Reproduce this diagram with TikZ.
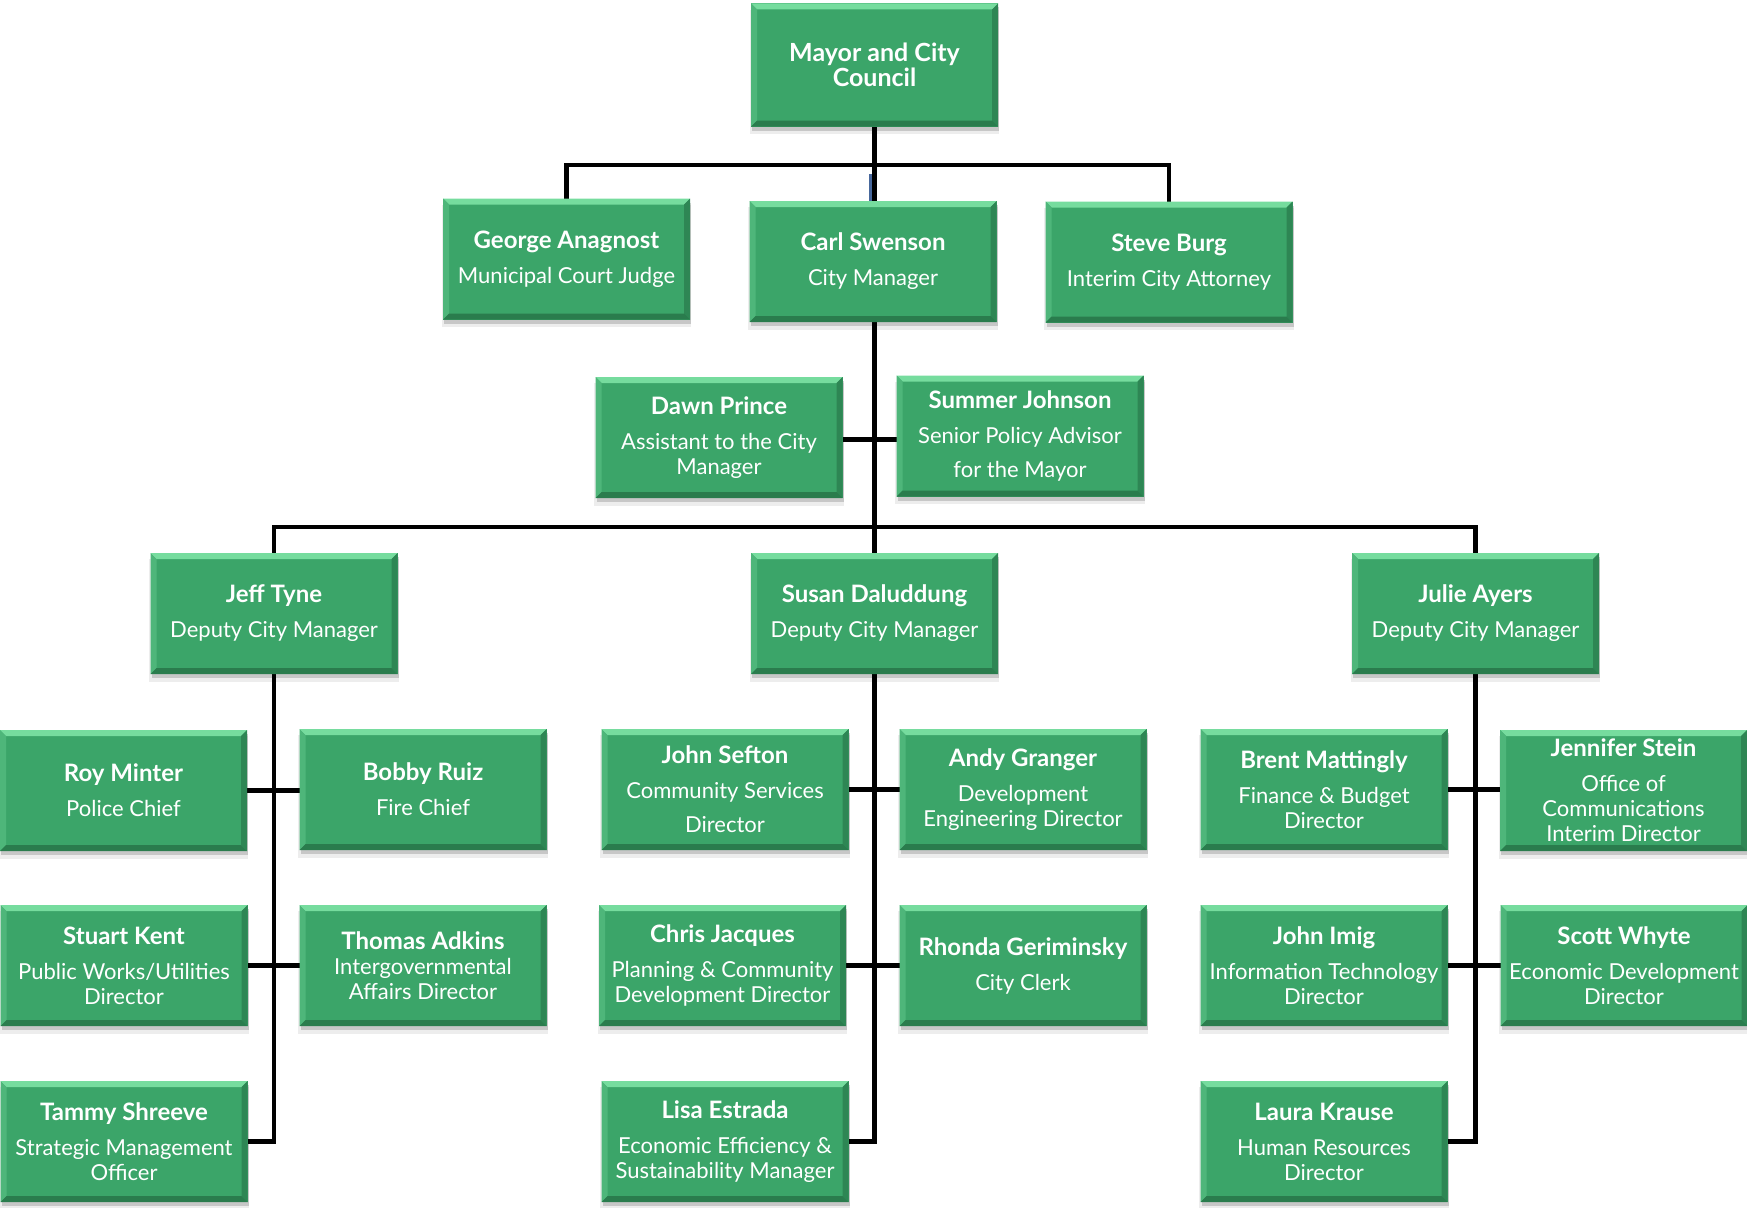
\documentclass[tikz,border=0pt]{standalone}
\usepackage{fontspec}
\setmainfont{Lato}
\usetikzlibrary{shadows,backgrounds}
\definecolor{boxgreen}{RGB}{59,165,105}
\definecolor{bevT}{RGB}{118,220,158}
\definecolor{bevL}{RGB}{78,182,122}
\definecolor{bevR}{RGB}{46,134,84}
\definecolor{bevB}{RGB}{42,124,77}
\definecolor{markblue}{RGB}{72,104,156}
\newcommand{\nm}[1]{{\fontsize{24}{28}\selectfont\bfseries #1}}
\newcommand{\ob}[2]{\nm{#1}\\[10pt]#2}
\tikzset{
  orgbox/.style={
    rectangle, minimum width=247pt, minimum height=121pt, inner sep=2pt,
    fill=boxgreen, text=white, align=center,
    font=\fontsize{22}{25}\selectfont,
    drop shadow={shadow xshift=1pt, shadow yshift=-4pt, opacity=0.16, fill=black},
    drop shadow={shadow xshift=0pt, shadow yshift=-7pt, shadow scale=1.01, opacity=0.07, fill=black},
    path picture={
      \fill[bevT] (path picture bounding box.north west) -- (path picture bounding box.north east)
        -- ([shift={(-6pt,-6pt)}]path picture bounding box.north east)
        -- ([shift={(6pt,-6pt)}]path picture bounding box.north west) -- cycle;
      \fill[bevL] (path picture bounding box.north west) -- ([shift={(6pt,-6pt)}]path picture bounding box.north west)
        -- ([shift={(6pt,6pt)}]path picture bounding box.south west)
        -- (path picture bounding box.south west) -- cycle;
      \fill[bevR] (path picture bounding box.north east) -- ([shift={(-6pt,-6pt)}]path picture bounding box.north east)
        -- ([shift={(-6pt,6pt)}]path picture bounding box.south east)
        -- (path picture bounding box.south east) -- cycle;
      \fill[bevB] (path picture bounding box.south west) -- ([shift={(6pt,6pt)}]path picture bounding box.south west)
        -- ([shift={(-6pt,6pt)}]path picture bounding box.south east)
        -- (path picture bounding box.south east) -- cycle;
    }
  },
  conn/.style={draw=black, line width=4.5pt, line cap=rect}
}
\begin{document}
\begin{tikzpicture}[x=1pt,y=-1pt]
\useasboundingbox (0,0) rectangle (1747,1207);
% top
\node[orgbox, minimum height=123pt, font=\fontsize{25}{25}\selectfont\bfseries] (mayor) at (874.5,65) {Mayor and City\\Council};
\node[orgbox] (george) at (566.5,259) {\ob{George Anagnost}{Municipal Court Judge}};
\node[orgbox] (carl) at (873,261.5) {\ob{Carl Swenson}{City Manager}};
\node[orgbox] (steve) at (1169,262) {\ob{Steve Burg}{Interim City Attorney}};
\node[orgbox] (dawn) at (719,437.5) {\ob{Dawn Prince}{Assistant to the City\\Manager}};
\node[orgbox] (summer) at (1020,436) {\ob{Summer Johnson}{Senior Policy Advisor\\[9pt]for the Mayor}};
% deputies
\node[orgbox] (jeff) at (274,613.5) {\ob{Jeff Tyne}{Deputy City Manager}};
\node[orgbox] (susan) at (874.5,613.5) {\ob{Susan Daluddung}{Deputy City Manager}};
\node[orgbox] (julie) at (1475.5,613.5) {\ob{Julie Ayers}{Deputy City Manager}};
% row 1
\node[orgbox] (roy) at (123.5,790.5) {\ob{Roy Minter}{Police Chief}};
\node[orgbox] (bobby) at (423,789.5) {\ob{Bobby Ruiz}{Fire Chief}};
\node[orgbox] (sefton) at (725,789.5) {\ob{John Sefton}{Community Services\\[9pt]Director}};
\node[orgbox] (andy) at (1023,789.5) {\ob{Andy Granger}{Development\\Engineering Director}};
\node[orgbox] (brent) at (1324,789.5) {\ob{Brent Mattingly}{Finance \& Budget\\Director}};
\node[orgbox] (jennifer) at (1623.5,790.5) {\ob{Jennifer Stein}{Office of\\Communications\\Interim Director}};
% row 2
\node[orgbox] (stuart) at (124,965.5) {\ob{Stuart Kent}{Public Works/Utilities\\Director}};
\node[orgbox] (thomas) at (423,965.5) {\nm{Thomas Adkins}\\Intergovernmental\\Affairs Director};
\node[orgbox] (chris) at (722.5,965.5) {\ob{Chris Jacques}{Planning \& Community\\Development Director}};
\node[orgbox] (rhonda) at (1023,965.5) {\ob{Rhonda Geriminsky}{City Clerk}};
\node[orgbox] (imig) at (1324,965.5) {\ob{John Imig}{Information Technology\\Director}};
\node[orgbox] (scott) at (1624,965.5) {\ob{Scott Whyte}{Economic Development\\Director}};
% row 3
\node[orgbox] (tammy) at (124,1141.5) {\ob{Tammy Shreeve}{Strategic Management\\Officer}};
\node[orgbox] (lisa) at (725,1141.5) {\ob{Lisa Estrada}{Economic Efficiency \&\\Sustainability Manager}};
\node[orgbox] (laura) at (1324,1141.5) {\ob{Laura Krause}{Human Resources\\Director}};
% connectors
\begin{scope}[on background layer]
\coordinate (b1) at (874.5,165);
\coordinate (b2) at (874.5,527);
\draw[draw=markblue, line width=3.5pt] ([xshift=-4pt]b1 |- carl.north) -- ++(0pt,27pt);
\draw[conn] (mayor.south) -- (b1) -- (b1 |- carl.north);
\draw[conn] (george.north) |- (b1) -| (steve.north);
\draw[conn] (b2 |- carl.south) -- (susan.north);
\draw[conn] (jeff.north) |- (b2) -| (julie.north);
\draw[conn] ([yshift=-2pt]dawn.east) -- ([yshift=-2pt]dawn.east -| summer.west);
\draw[conn] (jeff.south) |- (tammy.east);
\draw[conn] (roy.east) -- (roy.east -| bobby.west);
\draw[conn] (stuart.east) -- (stuart.east -| thomas.west);
\draw[conn] (susan.south) |- (lisa.east);
\draw[conn] (sefton.east) -- (sefton.east -| andy.west);
\draw[conn] (chris.east) -- (chris.east -| rhonda.west);
\draw[conn] (julie.south) |- (laura.east);
\draw[conn] (brent.east) -- (brent.east -| jennifer.west);
\draw[conn] (imig.east) -- (imig.east -| scott.west);
\end{scope}
\end{tikzpicture}
\end{document}
